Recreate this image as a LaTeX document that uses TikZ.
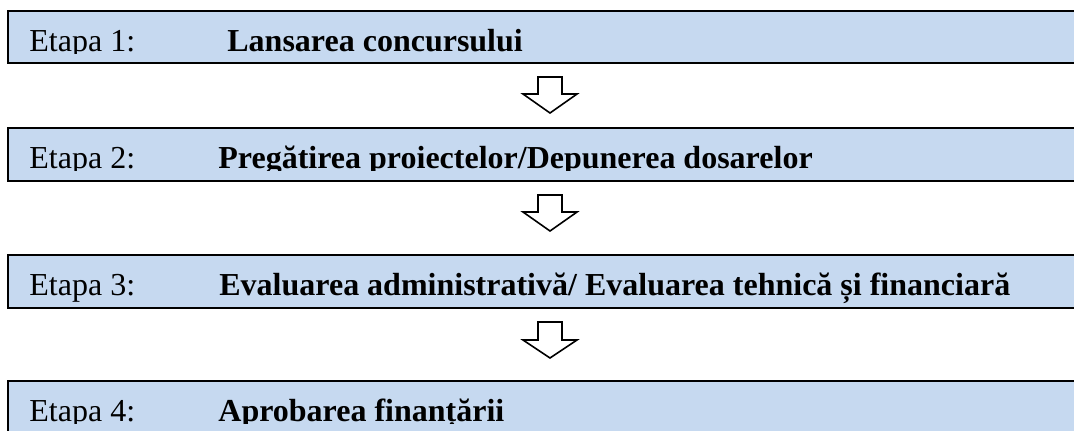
\documentclass[tikz,border=0pt]{standalone}
\usepackage{fontspec}
\setmainfont{Liberation Serif}
\definecolor{boxblue}{RGB}{198,217,240}
\begin{document}
\begin{tikzpicture}[x=0.5pt,y=-0.5pt,
  stagebox/.style={draw=black,line width=1pt,fill=boxblue},
  lbl/.style={anchor=base west,inner sep=0pt,font=\fontsize{16}{19}\selectfont},
  ttl/.style={anchor=base west,inner sep=0pt,font=\fontsize{16}{19}\selectfont\bfseries},
  blockarrow/.style={draw=black,line width=0.8pt,fill=white,line join=miter}]
\useasboundingbox (0,0) rectangle (1074,430);
% Stage 1
\path[stagebox] (8,11) rectangle (1090,63);
\begin{scope}
  \clip (8,11) rectangle (1090,53.5);
  \node[lbl] (e1) at (29,51) {Etapa 1:};
  \node[ttl] (t1) at (227,51) {Lansarea concursului};
\end{scope}
% Stage 2
\path[stagebox] (8,128) rectangle (1090,181);
\begin{scope}
  \clip (8,128) rectangle (1090,170.5);
  \node[lbl] (e2) at (29,168) {Etapa 2:};
  \node[ttl] (t2) at (218,168) {Pregătirea proiectelor/Depunerea dosarelor};
\end{scope}
% Stage 3
\path[stagebox] (8,255) rectangle (1090,308);
\begin{scope}
  \clip (8,255) rectangle (1090,307);
  \node[lbl] (e3) at (29,295) {Etapa 3:};
  \node[ttl] (t3) at (219,295) {Evaluarea administrativă/ Evaluarea tehnică și financiară};
\end{scope}
% Stage 4
\path[stagebox] (8,381) rectangle (1090,445);
\begin{scope}
  \clip (8,381) rectangle (1090,423.5);
  \node[lbl] (e4) at (29,421) {Etapa 4:};
  \node[ttl] (t4) at (218,421) {Aprobarea finanțării};
\end{scope}
% Block arrows
\draw[blockarrow] (538,77) -- (562,77) -- (562,94) -- (577,94) -- (550,113) -- (523,94) -- (538,94) -- cycle;
\draw[blockarrow] (538,195) -- (562,195) -- (562,212) -- (577,212) -- (550,231) -- (523,212) -- (538,212) -- cycle;
\draw[blockarrow] (538,322) -- (562,322) -- (562,340) -- (577,340) -- (550,358) -- (523,340) -- (538,340) -- cycle;
\end{tikzpicture}
\end{document}
